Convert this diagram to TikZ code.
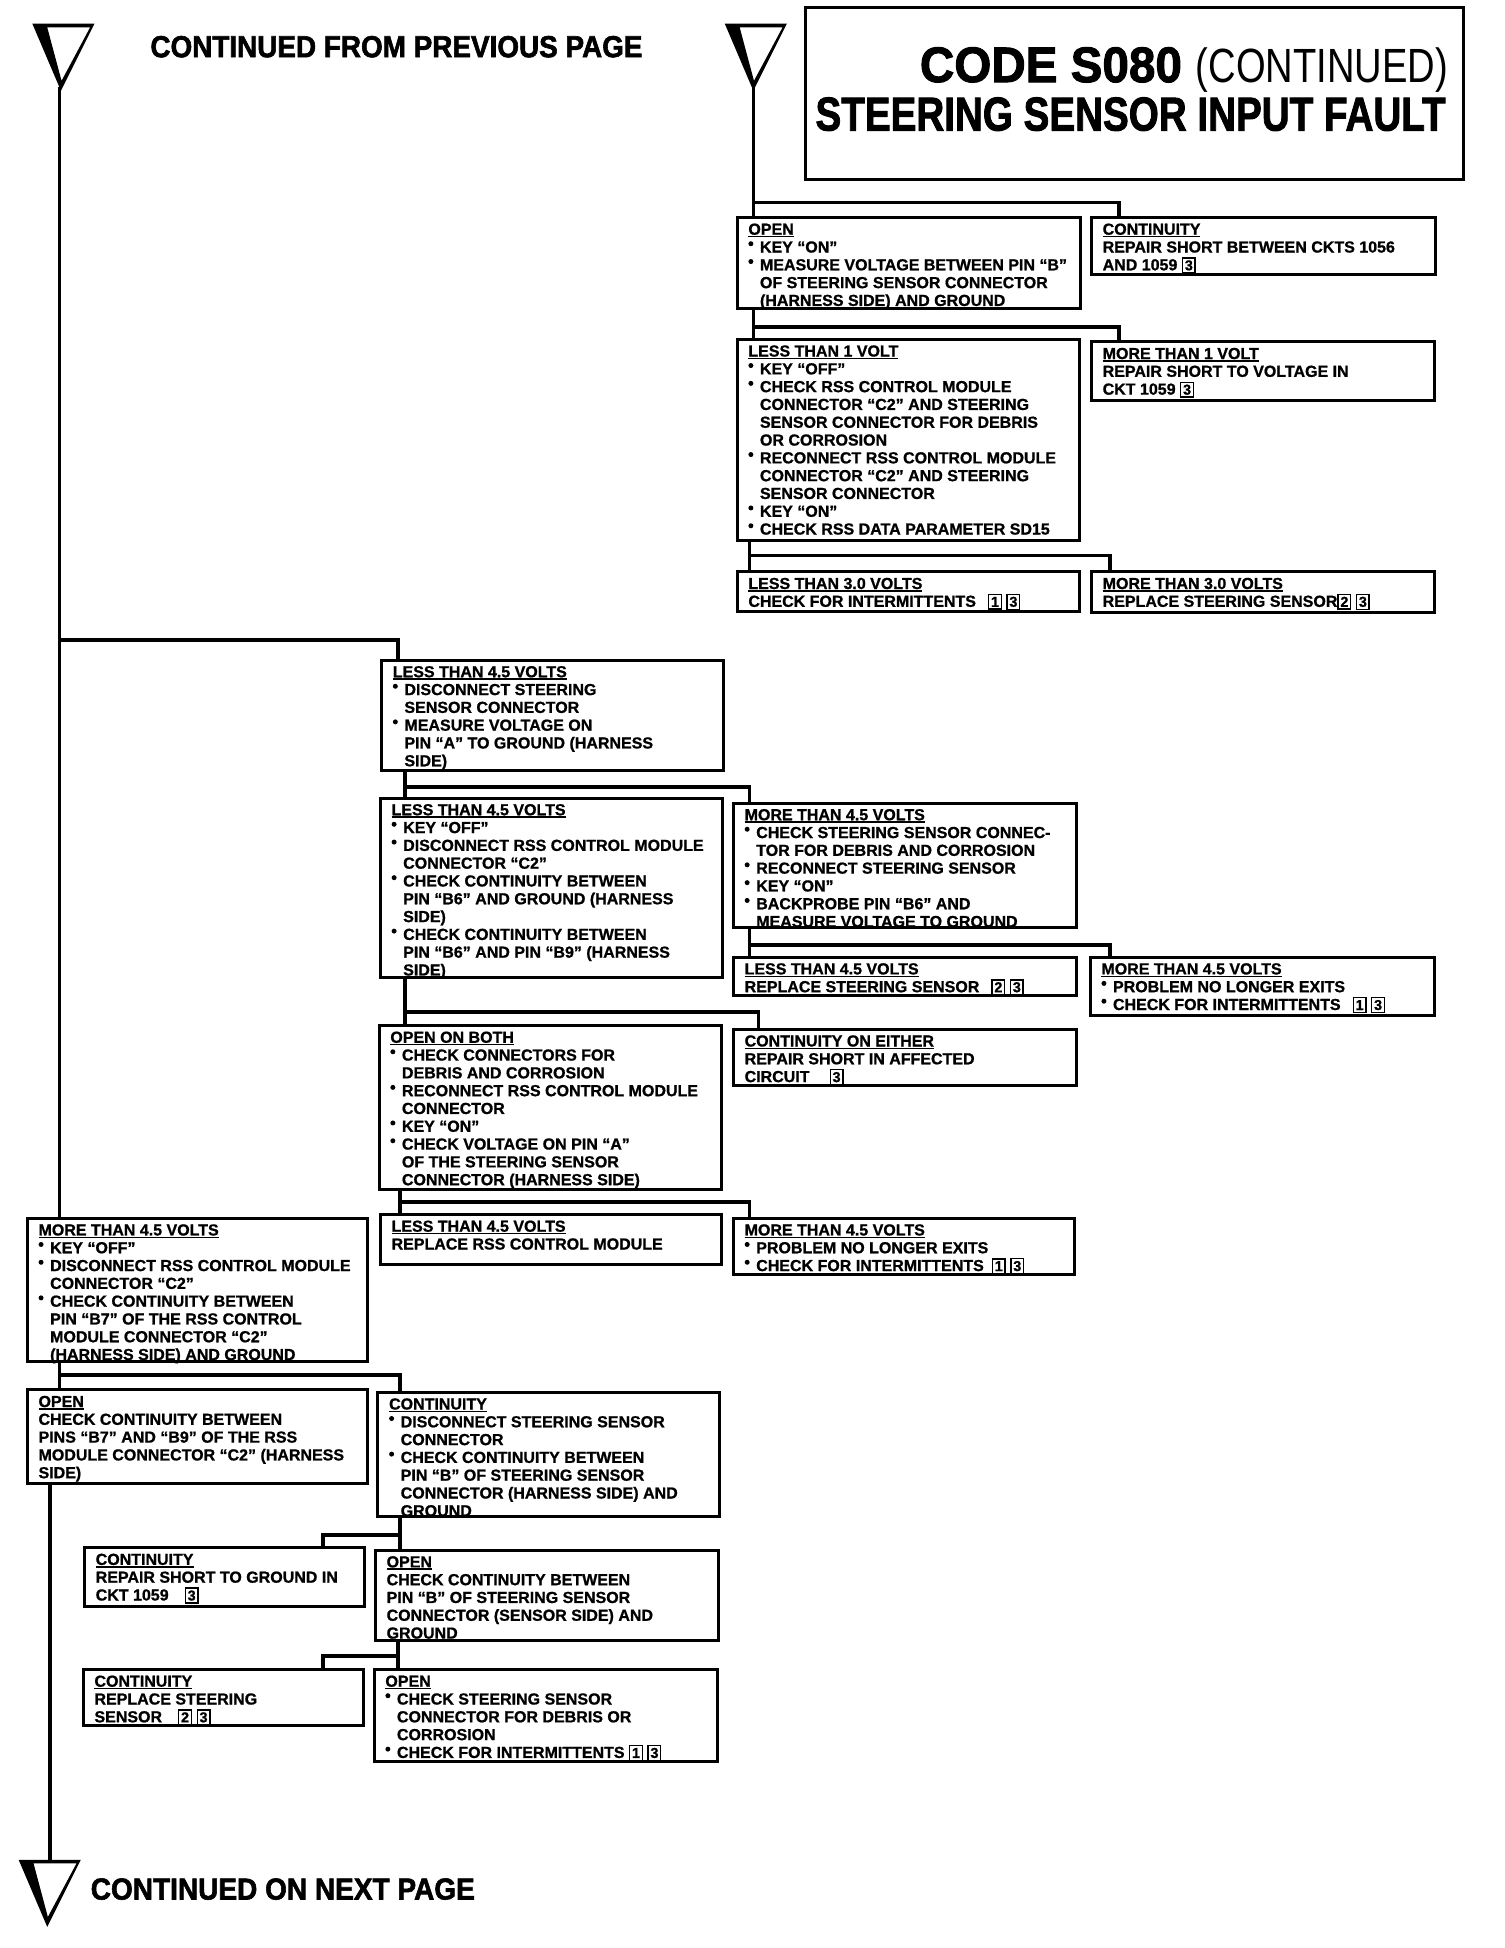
\documentclass[tikz,border=0pt]{standalone}
\usepackage{fontspec}
\setmainfont{Liberation Sans}
\newfontfamily\heavyfont{Liberation Sans Bold}[FakeBold=2]
\newfontfamily\boxfam{Liberation Sans Bold}[FakeBold=1]
\usetikzlibrary{fit}
\newcommand\boxfont{\boxfam\fontsize{8}{8.9}\selectfont}
\newcommand\hd[1]{\setbox0=\hbox{#1}\rlap{\rule[-1.3pt]{\wd0}{0.75pt}}\box0}
\newcommand\bl{\makebox[5.8pt][l]{\tikz[x=1pt,y=1pt,baseline=-4.4pt]\fill (1.3,0) circle (1.25);}}
\newcommand\ind{\hspace*{5.8pt}}
\newcommand\bn[1]{{\fboxsep=0.8pt\fboxrule=0.7pt\fbox{\fontsize{7.2}{7.2}\selectfont #1}}}
\newcommand\bx[6]{%
  \path (#2,#3) coordinate (#1-nw) (#4,#5) coordinate (#1-se);
  \node[boxst, fit=(#1-nw)(#1-se)] (#1) {};
  \node[txt] at ([xshift=5.6pt,yshift=-3.0pt]#1.north west) {#6};
}
\newcommand\trishape{%
  \fill[even odd rule] (0,0) -- (50,0) -- (23,54) -- cycle
     (12,3) -- (46.5,3) -- (23.5,46) -- cycle;
}
\begin{document}
\begin{tikzpicture}[x=0.6215pt,y=-0.6215pt,
  conn/.style={line width=1.8pt},
  boxst/.style={draw, line width=1.5pt, inner sep=0pt, outer sep=0pt},
  txt/.style={anchor=north west, inner sep=0pt, outer sep=0pt, align=left, font=\boxfont},
  bigtxt/.style={anchor=base west, inner sep=0pt, outer sep=0pt, font=\heavyfont}]
\useasboundingbox (0,0) rectangle (1210,1567);

% triangles
\begin{scope}[shift={(26,19)}]\trishape\end{scope}
\begin{scope}[shift={(583,19)}]\trishape\end{scope}
\begin{scope}[shift={(15,1496)}]\trishape\end{scope}
\coordinate (aL) at (48,70);
\coordinate (aR) at (606,70);
\coordinate (aB) at (40,1497);

% headings
\node[bigtxt] (cfp) at (121,46) {\resizebox{246pt}{10.6pt}{CONTINUED FROM PREVIOUS PAGE}};
\node[bigtxt] (cnp) at (73,1528) {\resizebox{192pt}{10.6pt}{CONTINUED ON NEXT PAGE}};

% title
\path (648,6) coordinate (t-nw) (1177,144) coordinate (t-se);
\node[boxst, fit=(t-nw)(t-se)] (title) {};
\node[bigtxt] (code) at (740,66) {\resizebox{131pt}{17.4pt}{CODE S080}};
\node[bigtxt, font=\mdseries] (cont) at (962,66) {\resizebox{126pt}{17.4pt}{(CONTINUED)}};
\node[bigtxt] (ssif) at (656,105) {\resizebox{315pt}{16.6pt}{STEERING SENSOR INPUT FAULT}};

% right column
\bx{r1}{593}{175}{869}{248}{\hd{OPEN}\\ \bl KEY “ON”\\ \bl MEASURE VOLTAGE BETWEEN PIN “B”\\ \ind OF STEERING SENSOR CONNECTOR\\ \ind (HARNESS SIDE) AND GROUND}
\bx{r2}{878}{175}{1155}{221}{\hd{CONTINUITY}\\ REPAIR SHORT BETWEEN CKTS 1056\\ AND 1059 \bn{3}}
\bx{r3}{593}{273}{868}{435}{\hd{LESS THAN 1 VOLT}\\ \bl KEY “OFF”\\ \bl CHECK RSS CONTROL MODULE\\ \ind CONNECTOR “C2” AND STEERING\\ \ind SENSOR CONNECTOR FOR DEBRIS\\ \ind OR CORROSION\\ \bl RECONNECT RSS CONTROL MODULE\\ \ind CONNECTOR “C2” AND STEERING\\ \ind SENSOR CONNECTOR\\ \bl KEY “ON”\\ \bl CHECK RSS DATA PARAMETER SD15}
\bx{r4}{878}{275}{1154}{322}{\hd{MORE THAN 1 VOLT}\\ REPAIR SHORT TO VOLTAGE IN\\ CKT 1059 \bn{3}}
\bx{r5}{593}{460}{868}{492}{\hd{LESS THAN 3.0 VOLTS}\\ CHECK FOR INTERMITTENTS\hspace{6pt}\bn{1} \bn{3}}
\bx{r6}{878}{460}{1154}{493}{\hd{MORE THAN 3.0 VOLTS}\\ REPLACE STEERING SENSOR\bn{2} \bn{3}}

% middle column
\bx{m1}{307}{531}{582}{620}{\hd{LESS THAN 4.5 VOLTS}\\ \bl DISCONNECT STEERING\\ \ind SENSOR CONNECTOR\\ \bl MEASURE VOLTAGE ON\\ \ind PIN “A” TO GROUND (HARNESS\\ \ind SIDE)}
\bx{m2}{306}{642}{581}{786}{\hd{LESS THAN 4.5 VOLTS}\\ \bl KEY “OFF”\\ \bl DISCONNECT RSS CONTROL MODULE\\ \ind CONNECTOR “C2”\\ \bl CHECK CONTINUITY BETWEEN\\ \ind PIN “B6” AND GROUND (HARNESS\\ \ind SIDE)\\ \bl CHECK CONTINUITY BETWEEN\\ \ind PIN “B6” AND PIN “B9” (HARNESS\\ \ind SIDE)}
\bx{m3}{590}{646}{866}{746}{\hd{MORE THAN 4.5 VOLTS}\\ \bl CHECK STEERING SENSOR CONNEC-\\ \ind TOR FOR DEBRIS AND CORROSION\\ \bl RECONNECT STEERING SENSOR\\ \bl KEY “ON”\\ \bl BACKPROBE PIN “B6” AND\\ \ind MEASURE VOLTAGE TO GROUND}
\bx{m4}{590}{770}{866}{801}{\hd{LESS THAN 4.5 VOLTS}\\ REPLACE STEERING SENSOR\hspace{6pt}\bn{2} \bn{3}}
\bx{m5}{877}{770}{1154}{817}{\hd{MORE THAN 4.5 VOLTS}\\ \bl PROBLEM NO LONGER EXITS\\ \bl CHECK FOR INTERMITTENTS\hspace{6pt}\bn{1} \bn{3}}
\bx{m6}{305}{825}{580}{957}{\hd{OPEN ON BOTH}\\ \bl CHECK CONNECTORS FOR\\ \ind DEBRIS AND CORROSION\\ \bl RECONNECT RSS CONTROL MODULE\\ \ind CONNECTOR\\ \bl KEY “ON”\\ \bl CHECK VOLTAGE ON PIN “A”\\ \ind OF THE STEERING SENSOR\\ \ind CONNECTOR (HARNESS SIDE)}
\bx{m7}{590}{828}{866}{873}{\hd{CONTINUITY ON EITHER}\\ REPAIR SHORT IN AFFECTED\\ CIRCUIT\hspace{10pt}\bn{3}}
\bx{m8}{306}{977}{580}{1017}{\hd{LESS THAN 4.5 VOLTS}\\ REPLACE RSS CONTROL MODULE}
\bx{m9}{590}{980}{864}{1025}{\hd{MORE THAN 4.5 VOLTS}\\ \bl PROBLEM NO LONGER EXITS\\ \bl CHECK FOR INTERMITTENTS\hspace{4pt}\bn{1} \bn{3}}

% left column
\bx{j}{22}{980}{296}{1095}{\hd{MORE THAN 4.5 VOLTS}\\ \bl KEY “OFF”\\ \bl DISCONNECT RSS CONTROL MODULE\\ \ind CONNECTOR “C2”\\ \bl CHECK CONTINUITY BETWEEN\\ \ind PIN “B7” OF THE RSS CONTROL\\ \ind MODULE CONNECTOR “C2”\\ \ind (HARNESS SIDE) AND GROUND}
\bx{k}{22}{1118}{296}{1193}{\hd{OPEN}\\ CHECK CONTINUITY BETWEEN\\ PINS “B7” AND “B9” OF THE RSS\\ MODULE CONNECTOR “C2” (HARNESS\\ SIDE)}
\bx{l}{304}{1120}{579}{1220}{\hd{CONTINUITY}\\ \bl DISCONNECT STEERING SENSOR\\ \ind CONNECTOR\\ \bl CHECK CONTINUITY BETWEEN\\ \ind PIN “B” OF STEERING SENSOR\\ \ind CONNECTOR (HARNESS SIDE) AND\\ \ind GROUND}
\bx{mm}{68}{1245}{293}{1292}{\hd{CONTINUITY}\\ REPAIR SHORT TO GROUND IN\\ CKT 1059\hspace{8pt}\bn{3}}
\bx{n}{302}{1247}{578}{1320}{\hd{OPEN}\\ CHECK CONTINUITY BETWEEN\\ PIN “B” OF STEERING SENSOR\\ CONNECTOR (SENSOR SIDE) AND\\ GROUND}
\bx{o}{67}{1343}{292}{1388}{\hd{CONTINUITY}\\ REPLACE STEERING\\ SENSOR\hspace{8pt}\bn{2} \bn{3}}
\bx{p}{301}{1343}{577}{1417}{\hd{OPEN}\\ \bl CHECK STEERING SENSOR\\ \ind CONNECTOR FOR DEBRIS OR\\ \ind CORROSION\\ \bl CHECK FOR INTERMITTENTS \bn{1} \bn{3}}

% connectors: right column
\coordinate (br2) at (900,163);
\draw[conn] (aR) -- (aR |- r1.north);
\draw[conn] (aR |- br2) -- (br2) -- (br2 |- r2.north);
\coordinate (br4) at (900,263);
\draw[conn] (r1.south -| aR) -- (r3.north -| aR);
\draw[conn] (aR |- br4) -- (br4) -- (br4 |- r4.north);
\coordinate (br5) at (603,447);
\coordinate (br6) at (893,447);
\draw[conn] (r3.south -| br5) -- (r5.north -| br5);
\draw[conn] (br5) -- (br6) -- (br6 |- r6.north);

% main left line and middle column
\coordinate (bm1) at (320,515);
\draw[conn] (aL) -- (aL |- j.north);
\draw[conn] (aL |- bm1) -- (bm1) -- (bm1 |- m1.north);
\coordinate (bm2) at (326,633);
\coordinate (bm3) at (603,633);
\draw[conn] (m1.south -| bm2) -- (m2.north -| bm2);
\draw[conn] (bm2) -- (bm3) -- (bm3 |- m3.north);
\coordinate (bm4) at (603,760);
\coordinate (bm5) at (893,760);
\draw[conn] (m3.south -| bm4) -- (m4.north -| bm4);
\draw[conn] (bm4) -- (bm5) -- (bm5 |- m5.north);
\coordinate (bm6) at (326,814);
\coordinate (bm7) at (610,814);
\draw[conn] (m2.south -| bm6) -- (m6.north -| bm6);
\draw[conn] (bm6) -- (bm7) -- (bm7 |- m7.north);
\coordinate (bm8) at (322,967);
\coordinate (bm9) at (603,967);
\draw[conn] (m6.south -| bm8) -- (m8.north -| bm8);
\draw[conn] (bm8) -- (bm9) -- (bm9 |- m9.north);

% left column
\coordinate (bk) at (48,1106);
\coordinate (bl) at (322,1106);
\draw[conn] (j.south -| bk) -- (k.north -| bk);
\draw[conn] (bk) -- (bl) -- (bl |- l.north);
\coordinate (bn) at (322,1235);
\coordinate (bmm) at (260,1235);
\draw[conn] (l.south -| bn) -- (n.north -| bn);
\draw[conn] (bn) -- (bmm) -- (bmm |- mm.north);
\coordinate (bp) at (320,1332);
\coordinate (bo) at (260,1332);
\draw[conn] (n.south -| bp) -- (p.north -| bp);
\draw[conn] (bp) -- (bo) -- (bo |- o.north);
\draw[conn] (k.south -| aB) -- (aB);
\end{tikzpicture}
\end{document}
